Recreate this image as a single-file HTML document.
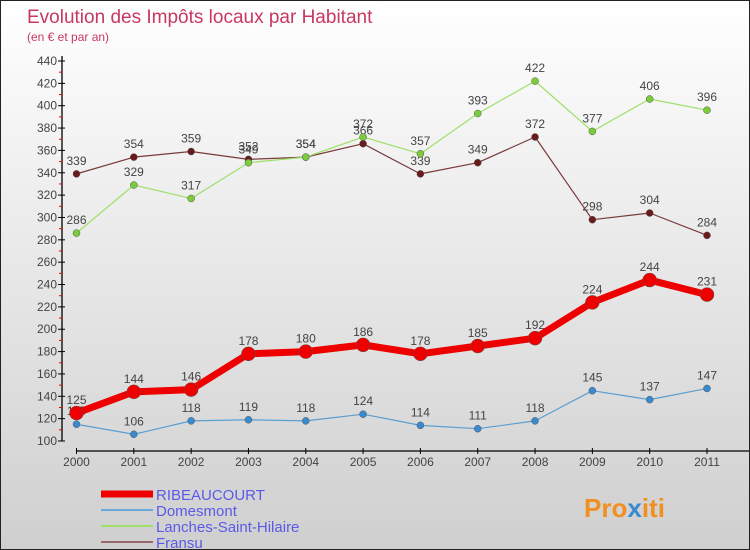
<!DOCTYPE html>
<html><head><meta charset="utf-8"><style>
body{margin:0}
#c{width:750px;height:550px;position:relative;overflow:hidden;box-sizing:border-box;border:1px solid #222;background:linear-gradient(#ffffff,#cfcfcf);font-family:"Liberation Sans",sans-serif}
</style></head><body>
<div id="c">
<svg id="s" width="750" height="550" style="position:absolute;left:0;top:0">
<text x="26" y="22" font-size="19" fill="#c8385f">Evolution des Impôts locaux par Habitant</text>
<text x="26" y="40" font-size="12" fill="#c8385f">(en € et par an)</text>
<g id="axes"></g><g id="series"></g><g id="legend"></g>
<text x="583" y="516" font-size="26" font-weight="bold" fill="#f09020">Pro<tspan fill="#3a8ad0">x</tspan>iti</text>
</svg></div>
<script>
const years=[2000,2001,2002,2003,2004,2005,2006,2007,2008,2009,2010,2011];
const yTicks=[100,120,140,160,180,200,220,240,260,280,300,320,340,360,380,400,420,440];
const ribeaucourt=[125,144,146,178,180,186,178,185,192,224,244,231];
const domesmont=[115,106,118,119,118,124,114,111,118,145,137,147];
const lanches=[286,329,317,349,354,372,357,393,422,377,406,396];
const fransu=[339,354,359,352,354,366,339,349,372,298,304,284];
const seriesNames=["RIBEAUCOURT","Domesmont","Lanches-Saint-Hilaire","Fransu"];
const NS="http://www.w3.org/2000/svg";
const X=i=>75.5+i*(706-75.5)/(years.length-1);
const Y=v=>440-(v-100)*(380/340);
function mk(t,a,p){const e=document.createElementNS(NS,t);for(const k in a)e.setAttribute(k,a[k]);p.appendChild(e);return e;}
const ax=document.getElementById('axes');
let l=mk('line',{x1:61,y1:55,x2:61,y2:440,stroke:'#000','stroke-width':1.3},ax);


l=mk('line',{x1:75,y1:450,x2:750,y2:450,stroke:'#000','stroke-width':1.3},ax);


yTicks.forEach((v,i)=>{
 mk('line',{x1:57,y1:Y(v),x2:64,y2:Y(v),stroke:'#000'},ax);
 if(i<yTicks.length-1)mk('line',{x1:58,y1:Y(v+10),x2:61,y2:Y(v+10),stroke:'#e00'},ax);
 const t=mk('text',{x:56,y:Y(v)+4,'font-size':12,fill:'#444','text-anchor':'end'},ax);t.textContent=v;
 
 
});
years.forEach((y,i)=>{
 mk('line',{x1:X(i),y1:447,x2:X(i),y2:453,stroke:'#000'},ax);
 const t=mk('text',{x:X(i),y:465,'font-size':12,fill:'#444','text-anchor':'middle'},ax);t.textContent=y;
 
 
});
const sg=document.getElementById('series');
function draw(vals,color,w,r,dot,name){
 const g=mk('g',{},sg);
 
 
 mk('polyline',{points:vals.map((v,i)=>X(i)+','+Y(v)).join(' '),fill:'none',stroke:color,'stroke-width':w,'stroke-linejoin':'round'},g);
 vals.forEach((v,i)=>{
  const c=mk('circle',{cx:X(i),cy:Y(v),r:r,fill:dot,stroke:'#555','stroke-width':0.5},g);
  
  
  const t=mk('text',{x:X(i),y:Y(v)-9,'font-size':12,fill:'#444','text-anchor':'middle'},g);t.textContent=v;
  
  
 });
}
draw(fransu,'#7a3a3a',1.2,3.5,'#6a1a1a','series-fransu');
draw(lanches,'#9ee06a',1.2,3.5,'#7acc3a','series-lanches');
draw(domesmont,'#5a9ed0',1.2,3.5,'#3a8ad0','series-domesmont');
draw(ribeaucourt,'#ee0000',7,7,'#ee0000','series-ribeaucourt');
const lg=document.getElementById('legend');
const lc=['#ee0000','#6aaad8','#9ee06a','#9a6a6a'],lw=[7,2,2,2];
seriesNames.forEach((n,i)=>{
 const y=493+i*16;
 const e=mk('line',{x1:100,y1:y,x2:152,y2:y,stroke:lc[i],'stroke-width':lw[i]},lg);
 
 
 const t=mk('text',{x:155,y:y+6,'font-size':15,fill:'#5a5ae8'},lg);t.textContent=n;
 
 
});
</script>
</body></html>
